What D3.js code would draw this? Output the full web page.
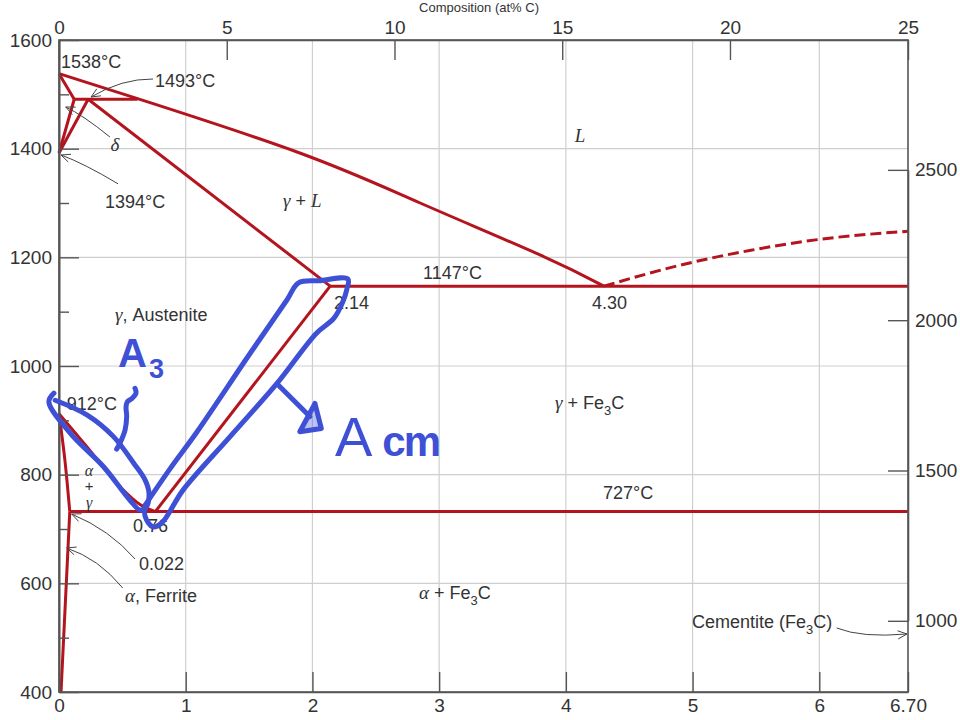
<!DOCTYPE html>
<html><head><meta charset="utf-8">
<script src="https://cdn.jsdelivr.net/npm/d3@7"></script>
<style>
body{margin:0;background:#fff;}
svg{display:block;}
text{white-space:pre;}
</style>
</head><body>
<svg id="chart" width="960" height="720"></svg>
<script>
// ---------------- DATA (wt% C, °C) ----------------
const liquidus      = [[0,1538],[0.62,1492],[1.90,1392],[2.85,1300],[3.80,1204],[4.30,1147]];
const liquidusDash  = [[4.30,1147],[5.0,1191],[5.46,1213],[6.0,1233],[6.70,1248]];
const deltaSolidus  = [[0,1538],[0.12,1491]];
const deltaSolvus   = [[0,1392],[0.12,1491]];
const gammaDelta    = [[0,1392],[0.23,1491]];
const peritectic    = [[0.12,1491],[0.62,1491]];
const gammaSolidus  = [[0.23,1491],[2.14,1147]];
const eutectic      = [[2.14,1147],[6.70,1147]];
const a3Line        = [[0,912],[0.218,852],[0.481,778],[0.639,745],[0.76,732]];
const alphaGamma    = [[0,912],[0.045,830],[0.085,732]];
const alphaSolvus   = [[0.085,732],[0.016,400]];
const acmLine       = [[0.76,732],[2.14,1147]];
const eutectoid     = [[0.085,732],[6.70,732]];

// axis ticks
const wtTicks        = [0,1,2,3,4,5,6,6.70];
const wtTickLabels   = ["0","1","2","3","4","5","6","6.70"];
const wtGrid         = [1,2,3,4,5,6];
const tempTicks      = [400,600,800,1000,1200,1400,1600];
const tempMinorTicks = [500,700,900,1100,1300,1500];
const tempGrid       = [600,800,1000,1200,1400];
const atTicks        = [0,5,10,15,20,25];
const fTicks         = [1000,1500,2000,2500];

// text labels: parts [text, style], position in (wt%, °C)
const labels = [
  {parts:[["1538°C"]], wt:0.016, t:1560},
  {parts:[["1493°C"]], wt:0.758, t:1526},
  {parts:[["δ","i"]], wt:0.442, t:1407, anchor:"middle"},
  {parts:[["1394°C"]], wt:0.363, t:1303},
  {parts:[["L","i"]], wt:4.112, t:1423, anchor:"middle"},
  {parts:[["γ","i"],[" + "],["L","i"]], wt:1.768, t:1304},
  {parts:[["1147°C"]], wt:2.873, t:1171},
  {parts:[["2.14"]], wt:2.170, t:1116},
  {parts:[["4.30"]], wt:4.206, t:1116},
  {parts:[["γ","i"],[", Austenite"]], wt:0.442, t:1094},
  {parts:[["912°C"]], wt:0.061, t:930},
  {parts:[["γ","i"],[" + Fe"],["3","sub"],["C"]], wt:3.914, t:932},
  {parts:[["α","i"]], wt:0.237, t:808, anchor:"middle", size:15},
  {parts:[["+"]], wt:0.237, t:779, anchor:"middle", size:15},
  {parts:[["γ","i"]], wt:0.237, t:749, anchor:"middle", size:15},
  {parts:[["727°C"]], wt:4.293, t:767},
  {parts:[["0.76"]], wt:0.584, t:705.5},
  {parts:[["0.022"]], wt:0.631, t:635.6},
  {parts:[["α","i"],[", Ferrite"]], wt:0.521, t:576.7},
  {parts:[["α","i"],[" + Fe"],["3","sub"],["C"]], wt:2.841, t:582},
  {parts:[["Cementite (Fe"],["3","sub"],["C)"]], wt:4.995, t:529}
];

// thin pointer arrows: start, control, end (wt%, °C)
const pointerArrows = [
  [[0.742,1528.2],[0.497,1529.0],[0.253,1495.1]],
  [[0.402,1421.5],[0.183,1462.7],[0.053,1476.7]],
  [[0.466,1335.3],[0.197,1372.9],[0.016,1388.4]],
  [[0.600,644.8],[0.402,698.2],[0.100,727.6]],
  [[0.503,591.4],[0.313,645.5],[0.061,665.0]],
  [[6.137,517.8],[6.334,499.4],[6.692,506.7]]
];

// hand-drawn blue annotations (wt%, °C)
const a3Loop  = [[-0.04,950],[-0.08,934],[0.09,876],[0.35,815],[0.56,753],[0.64,735],[0.69,741],[0.71,766],[0.68,790],[0.59,821],[0.43,870],[0.22,910],[-0.03,937]];
const a3Brace = [[0.60,959],[0.608,950],[0.574,940],[0.539,934],[0.529,925],[0.534,907],[0.521,882],[0.481,858],[0.455,847]];
const acmLoop = [[0.68,744],[0.88,812],[1.09,879],[1.49,1017],[1.80,1122],[1.89,1153],[2.05,1157],[2.28,1160],[2.27,1140],[2.24,1118],[2.17,1088],[2.03,1060],[1.72,968],[1.35,870],[0.98,772],[0.81,711],[0.74,704],[0.68,723],[0.68,744]];
const acmArrow = [[1.73,965],[1.98,907]];
const acmHead  = [[2.02,931],[2.07,885],[1.90,879],[2.02,931]];
const a3TextPos  = [0.466, 998];
const acmTextPos = [2.178, 834];

// ---------------- SCALES ----------------
const x = d3.scaleLinear().domain([0, 6.70]).range([59, 908]);
const y = d3.scaleLinear().domain([400, 1600]).range([692, 40]);
const atToWt = d3.scaleLinear().domain([0, 20, 25]).range([0, 5.295, 6.70]);
const xTop = d3.scaleLinear().domain([0, 20, 25]).range([x(atToWt(0)), x(atToWt(20)), x(atToWt(25))]);
const fToC = d3.scaleLinear().domain([1000, 2500]).range([531, 1361]);
const yF = d3.scaleLinear().domain([1000, 2500]).range([y(fToC(1000)), y(fToC(2500))]);

const svg = d3.select("#chart");
const RED = "#b3141d", BLUE = "#3e50d6", AX = "#555", TXT = "#333";
const SANS = "'Liberation Sans', Arial, Helvetica, sans-serif";
const SERIF = "'Liberation Serif', 'Times New Roman', serif";

// ---------------- GRID ----------------
const grid = svg.append("g").attr("stroke", "#cfcfcf").attr("stroke-width", 1.2);
grid.selectAll(".gv").data(wtGrid).join("line")
  .attr("x1", d => x(d)).attr("x2", d => x(d)).attr("y1", y(400)).attr("y2", y(1600));
grid.selectAll(".gh").data(tempGrid).join("line")
  .attr("x1", x(0)).attr("x2", x(6.70)).attr("y1", d => y(d)).attr("y2", d => y(d));

// ---------------- PHASE LINES ----------------
const line = d3.line().x(d => x(d[0])).y(d => y(d[1]));
const mono = d3.line().x(d => x(d[0])).y(d => y(d[1])).curve(d3.curveMonotoneX);
const nat = d3.line().x(d => x(d[0])).y(d => y(d[1])).curve(d3.curveNatural);
const cr = d3.line().x(d => x(d[0])).y(d => y(d[1])).curve(d3.curveCatmullRom.alpha(0.5));
const pl = svg.append("g").attr("fill", "none").attr("stroke", RED).attr("stroke-width", 3).attr("stroke-linejoin", "round");
pl.append("path").attr("d", nat(liquidus));
pl.append("path").attr("d", mono(liquidusDash)).attr("stroke-dasharray", "11,5");
[deltaSolidus, deltaSolvus, gammaDelta, peritectic, gammaSolidus, eutectic, alphaSolvus, acmLine, eutectoid]
  .forEach(seg => pl.append("path").attr("d", line(seg)));
pl.append("path").attr("d", mono(a3Line));
pl.append("path").attr("d", cr(alphaGamma));

// ---------------- AXES ----------------
function styleAxis(g, size) {
  g.select(".domain").attr("stroke", AX).attr("stroke-width", 1.6);
  g.selectAll(".tick line").attr("stroke", AX).attr("stroke-width", 1.4);
  g.selectAll(".tick text").attr("fill", TXT).style("font-family", SANS).style("font-size", size + "px");
}
const gl = svg.append("g").attr("transform", `translate(${x(0)},0)`)
  .call(d3.axisLeft(y).tickValues(tempTicks).tickSize(-20).tickSizeOuter(0).tickPadding(7).tickFormat(d3.format("d")));
styleAxis(gl, 19);
const glm = svg.append("g").attr("transform", `translate(${x(0)},0)`)
  .call(d3.axisLeft(y).tickValues(tempMinorTicks).tickSize(-10).tickSizeOuter(0).tickFormat(""));
styleAxis(glm, 19);
const gb = svg.append("g").attr("transform", `translate(0,${y(400)})`)
  .call(d3.axisBottom(x).tickValues(wtTicks).tickSize(-20).tickSizeOuter(0).tickPadding(7)
    .tickFormat((d, i) => wtTickLabels[i]));
styleAxis(gb, 19);
const gt = svg.append("g").attr("transform", `translate(0,${y(1600)})`)
  .call(d3.axisTop(xTop).tickValues(atTicks).tickSize(-20).tickSizeOuter(0).tickPadding(6).tickFormat(d3.format("d")));
styleAxis(gt, 19);
const gr = svg.append("g").attr("transform", `translate(${x(6.70)},0)`)
  .call(d3.axisRight(yF).tickValues(fTicks).tickSize(-20).tickSizeOuter(0).tickPadding(7).tickFormat(d3.format("d")));
styleAxis(gr, 19);
// full frame
svg.append("rect").attr("x", x(0)).attr("y", y(1600)).attr("width", x(6.70) - x(0)).attr("height", y(400) - y(1600))
  .attr("fill", "none").attr("stroke", AX).attr("stroke-width", 1.6);

// top axis title
svg.append("text").attr("x", 479).attr("y", 12).attr("text-anchor", "middle")
  .style("font-family", SANS).style("font-size", "13px").attr("fill", TXT).text("Composition (at% C)");

// ---------------- LABELS ----------------
labels.forEach(l => {
  const size = l.size || 18;
  const t = svg.append("text").attr("x", x(l.wt)).attr("y", y(l.t)).attr("dy", "0.35em")
    .attr("text-anchor", l.anchor || "start").attr("fill", TXT)
    .style("font-family", SANS).style("font-size", size + "px");
  let shifted = false;
  l.parts.forEach(p => {
    const ts = t.append("tspan").text(p[0]);
    if (p[1] === "i") ts.style("font-family", SERIF).style("font-style", "italic").style("font-size", (size + 1) + "px");
    if (p[1] === "sub") { ts.style("font-size", (size * 0.72) + "px").attr("dy", size * 0.3); shifted = true; }
    else if (shifted) { ts.attr("dy", -size * 0.3); shifted = false; }
  });
});

// ---------------- POINTER ARROWS ----------------
const ag = svg.append("g").attr("fill", "none").attr("stroke", "#444").attr("stroke-width", 1);
pointerArrows.forEach(a => {
  const [s, c, e] = a.map(p => [x(p[0]), y(p[1])]);
  ag.append("path").attr("d", `M${s[0]},${s[1]} Q${c[0]},${c[1]} ${e[0]},${e[1]}`);
  const ang = Math.atan2(e[1] - c[1], e[0] - c[0]);
  const L = 10, w = 0.42;
  const p1 = [e[0] - L * Math.cos(ang - w), e[1] - L * Math.sin(ang - w)];
  const p2 = [e[0] - L * Math.cos(ang + w), e[1] - L * Math.sin(ang + w)];
  ag.append("path").attr("d", `M${p1[0]},${p1[1]} L${e[0]},${e[1]} L${p2[0]},${p2[1]}`);
});

// ---------------- BLUE HAND ANNOTATIONS ----------------
const bg = svg.append("g").attr("fill", "none").attr("stroke", BLUE).attr("stroke-width", 5)
  .attr("stroke-linecap", "round").attr("stroke-linejoin", "round");
bg.append("path").attr("d", cr(a3Loop));
bg.append("path").attr("d", cr(a3Brace));
bg.append("path").attr("d", cr(acmLoop));
bg.append("path").attr("d", line(acmArrow));
bg.append("path").attr("d", line(acmHead)).attr("fill", BLUE).attr("fill-opacity", 0.35);

const ta = svg.append("text").attr("x", x(a3TextPos[0])).attr("y", y(a3TextPos[1]))
  .attr("fill", BLUE).style("font-family", SANS).style("font-weight", "bold").style("font-size", "40px");
ta.append("tspan").text("A");
ta.append("tspan").text("3").style("font-size", "27px").attr("dy", 11).attr("dx", 2);

const tc = svg.append("text").attr("x", x(acmTextPos[0])).attr("y", y(acmTextPos[1]))
  .attr("fill", BLUE).style("font-family", SANS).style("font-size", "56px");
tc.append("tspan").text("A");
tc.append("tspan").text("cm").style("font-size", "42px").style("font-weight", "bold").attr("dx", 10).style("letter-spacing", "-2px");
</script>
</body></html>
